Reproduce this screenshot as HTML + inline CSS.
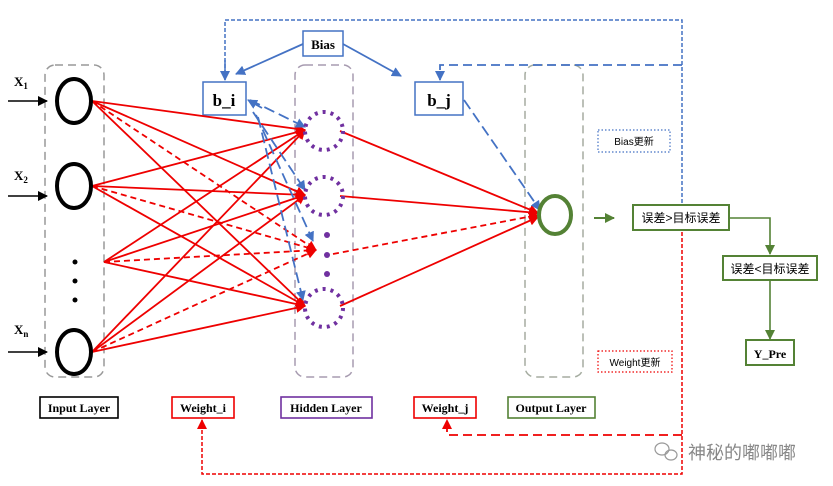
<!DOCTYPE html>
<html><head><meta charset="utf-8"><style>
html,body{margin:0;padding:0;background:#fff;}
svg{display:block;}
.b{font-family:"Liberation Serif",serif;font-weight:bold;}
.c{font-family:"Liberation Sans","Noto Sans CJK SC",sans-serif;}
</style></head><body>
<svg width="833" height="486" viewBox="0 0 833 486" xmlns="http://www.w3.org/2000/svg">
<defs>
<marker id="ar" markerWidth="10" markerHeight="10" refX="9" refY="5" orient="auto" markerUnits="userSpaceOnUse"><path d="M0,0 L10,5 L0,10 z" fill="#e00"/></marker>
<marker id="ab" markerWidth="10" markerHeight="10" refX="9" refY="5" orient="auto" markerUnits="userSpaceOnUse"><path d="M0,0 L10,5 L0,10 z" fill="#4472c4"/></marker>
<marker id="ag" markerWidth="10" markerHeight="10" refX="9" refY="5" orient="auto" markerUnits="userSpaceOnUse"><path d="M0,0 L10,5 L0,10 z" fill="#548235"/></marker>
<marker id="ak" markerWidth="10" markerHeight="10" refX="9" refY="5" orient="auto" markerUnits="userSpaceOnUse"><path d="M0,0 L10,5 L0,10 z" fill="#000"/></marker>
</defs>
<rect x="45" y="65" width="59" height="312" rx="10" fill="none" stroke="#999" stroke-width="1.5" stroke-dasharray="8,5"/>
<rect x="295" y="65" width="58" height="312" rx="10" fill="none" stroke="#a79bb0" stroke-width="1.5" stroke-dasharray="8,5"/>
<rect x="525" y="65" width="58" height="312" rx="10" fill="none" stroke="#a5aca0" stroke-width="1.5" stroke-dasharray="8,5"/>

<polyline points="225,80 225,20 682,20 682,205" fill="none" stroke="#4472c4" stroke-width="1.5" stroke-dasharray="4,2" marker-end="none"/>
<line x1="225" y1="60" x2="225" y2="80" stroke="#4472c4" stroke-width="1.5" marker-end="url(#ab)"/>
<polyline points="682,65 440,65 440,80" fill="none" stroke="#4472c4" stroke-width="1.8" stroke-dasharray="9,5" marker-end="url(#ab)"/>
<polyline points="682,232 682,474 202,474 202,420" fill="none" stroke="#e00" stroke-width="1.5" stroke-dasharray="4,2" marker-end="url(#ar)"/>
<polyline points="682,435 447,435 447,420" fill="none" stroke="#e00" stroke-width="1.8" stroke-dasharray="9,5" marker-end="url(#ar)"/>

<line x1="303" y1="44" x2="236" y2="74" stroke="#4472c4" stroke-width="1.8" marker-end="url(#ab)"/>
<line x1="343" y1="44" x2="401" y2="76" stroke="#4472c4" stroke-width="1.8" marker-end="url(#ab)"/>
<rect x="303" y="31" width="40" height="25" fill="#fff" stroke="#4472c4" stroke-width="1.5"/>
<text x="323" y="49" class="b" font-size="13" text-anchor="middle">Bias</text>
<rect x="203" y="82" width="43" height="33" fill="#fff" stroke="#4472c4" stroke-width="1.5"/>
<text x="224" y="106" class="b" font-size="17" text-anchor="middle">b_i</text>
<rect x="415" y="82" width="48" height="33" fill="#fff" stroke="#4472c4" stroke-width="1.5"/>
<text x="439" y="106" class="b" font-size="17" text-anchor="middle">b_j</text>

<g stroke="#e00" stroke-width="1.8" fill="none" marker-end="url(#ar)">
<line x1="92" y1="101" x2="305" y2="130"/>
<line x1="92" y1="101" x2="305" y2="195"/>
<line x1="92" y1="101" x2="305" y2="306"/>
<line x1="92" y1="101" x2="316" y2="250" stroke-dasharray="6,4"/>
<line x1="92" y1="186" x2="305" y2="130"/>
<line x1="92" y1="186" x2="305" y2="195"/>
<line x1="92" y1="186" x2="305" y2="306"/>
<line x1="92" y1="186" x2="316" y2="250" stroke-dasharray="6,4"/>
<line x1="104" y1="262" x2="305" y2="130"/>
<line x1="104" y1="262" x2="305" y2="195"/>
<line x1="104" y1="262" x2="305" y2="306"/>
<line x1="104" y1="262" x2="316" y2="250" stroke-dasharray="6,4"/>
<line x1="92" y1="352" x2="305" y2="130"/>
<line x1="92" y1="352" x2="305" y2="195"/>
<line x1="92" y1="352" x2="305" y2="306"/>
<line x1="92" y1="352" x2="316" y2="250" stroke-dasharray="6,4"/>
<line x1="340" y1="131" x2="538" y2="213"/>
<line x1="340" y1="196" x2="538" y2="213"/>
<line x1="333" y1="254" x2="538" y2="215" stroke-dasharray="6,4"/>
<line x1="340" y1="306" x2="538" y2="217"/>
</g>
<g stroke="#4472c4" stroke-width="1.8" fill="none" stroke-dasharray="11,5" marker-end="url(#ab)">
<line x1="250" y1="100" x2="305" y2="127"/>
<line x1="253" y1="112" x2="305" y2="190"/>
<line x1="256" y1="115" x2="313" y2="241"/>
<line x1="258" y1="117" x2="303" y2="300"/>
<line x1="464" y1="100" x2="540" y2="210"/>
</g>
<line x1="262" y1="108" x2="248" y2="100" stroke="#4472c4" stroke-width="1.8" marker-end="url(#ab)"/>

<g fill="#fff" stroke="#000" stroke-width="4">
<ellipse cx="74" cy="101" rx="17" ry="22"/>
<ellipse cx="74" cy="186" rx="17" ry="22"/>
<ellipse cx="74" cy="352" rx="17" ry="22"/>
</g>
<circle cx="75" cy="262" r="2.5"/><circle cx="75" cy="281" r="2.5"/><circle cx="75" cy="300" r="2.5"/>
<g stroke="#000" stroke-width="1.6" marker-end="url(#ak)">
<line x1="8" y1="101" x2="47" y2="101"/>
<line x1="8" y1="196" x2="47" y2="196"/>
<line x1="8" y1="352" x2="47" y2="352"/>
</g>
<text x="14" y="86" class="b" font-size="13">X<tspan font-size="9" dy="3">1</tspan></text>
<text x="14" y="180" class="b" font-size="13">X<tspan font-size="9" dy="3">2</tspan></text>
<text x="14" y="334" class="b" font-size="13">X<tspan font-size="9" dy="3">n</tspan></text>

<g fill="none" stroke="#7030a0" stroke-width="4" stroke-dasharray="3,5">
<circle cx="324" cy="131" r="19"/>
<circle cx="324" cy="196" r="19"/>
<circle cx="324" cy="308" r="19"/>
</g>
<g fill="#7030a0"><circle cx="327" cy="235" r="3"/><circle cx="327" cy="255" r="3"/><circle cx="327" cy="274" r="3"/></g>

<ellipse cx="555" cy="215" rx="16" ry="19" fill="#fff" stroke="#548235" stroke-width="4"/>
<line x1="594" y1="218" x2="614" y2="218" stroke="#548235" stroke-width="2" marker-end="url(#ag)"/>

<rect x="598" y="130" width="72" height="22" fill="none" stroke="#4472c4" stroke-width="1.2" stroke-dasharray="1.5,2"/>
<text x="634" y="145" class="c" font-size="10" text-anchor="middle">Bias更新</text>
<rect x="598" y="351" width="74" height="21" fill="none" stroke="#e00" stroke-width="1.2" stroke-dasharray="1.5,2"/>
<text x="635" y="366" class="c" font-size="10" text-anchor="middle">Weight更新</text>

<polyline points="729,218 770,218 770,254" fill="none" stroke="#548235" stroke-width="1.6" marker-end="url(#ag)"/>
<line x1="770" y1="281" x2="770" y2="339" stroke="#548235" stroke-width="1.6" marker-end="url(#ag)"/>
<rect x="633" y="205" width="96" height="25" fill="#fff" stroke="#548235" stroke-width="2"/>
<text x="681" y="222" class="c" font-size="12" text-anchor="middle">误差&gt;目标误差</text>
<rect x="723" y="256" width="94" height="24" fill="#fff" stroke="#548235" stroke-width="2"/>
<text x="770" y="273" class="c" font-size="12" text-anchor="middle">误差&lt;目标误差</text>
<rect x="746" y="340" width="48" height="25" fill="#fff" stroke="#548235" stroke-width="2"/>
<text x="770" y="358" class="b" font-size="12" text-anchor="middle">Y_Pre</text>

<rect x="40" y="397" width="78" height="21" fill="#fff" stroke="#000" stroke-width="1.6"/>
<text x="79" y="412" class="b" font-size="12" text-anchor="middle">Input Layer</text>
<rect x="172" y="397" width="62" height="21" fill="#fff" stroke="#e00" stroke-width="1.6"/>
<text x="203" y="412" class="b" font-size="12" text-anchor="middle">Weight_i</text>
<rect x="281" y="397" width="91" height="21" fill="#fff" stroke="#7030a0" stroke-width="1.6"/>
<text x="326" y="412" class="b" font-size="12" text-anchor="middle">Hidden Layer</text>
<rect x="414" y="397" width="62" height="21" fill="#fff" stroke="#e00" stroke-width="1.6"/>
<text x="445" y="412" class="b" font-size="12" text-anchor="middle">Weight_j</text>
<rect x="508" y="397" width="87" height="21" fill="#fff" stroke="#548235" stroke-width="1.6"/>
<text x="551" y="412" class="b" font-size="12" text-anchor="middle">Output Layer</text>

<g fill="none" stroke="#999" stroke-width="1.2">
<ellipse cx="662" cy="449" rx="7" ry="6"/>
<ellipse cx="671" cy="455" rx="6" ry="5"/>
</g>
<text x="688" y="459" class="c" font-size="18" fill="#888">神秘的嘟嘟嘟</text>
</svg>
</body></html>
